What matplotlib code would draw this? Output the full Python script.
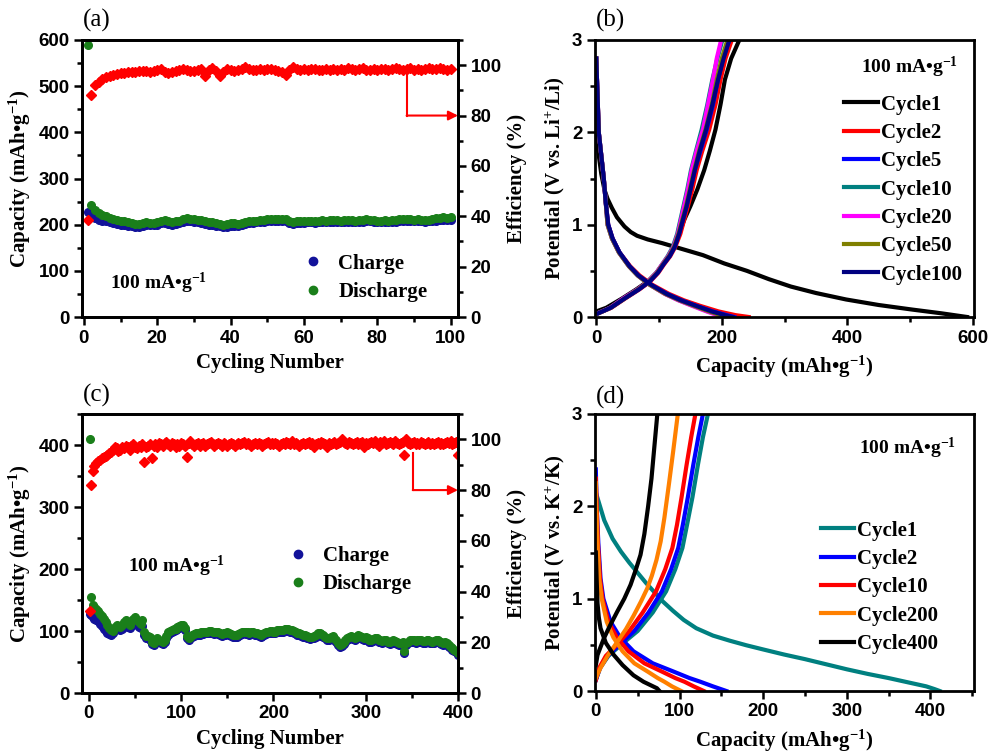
import numpy as np
import matplotlib
matplotlib.use("Agg")
import matplotlib.pyplot as plt
from matplotlib.lines import Line2D
from matplotlib.ticker import MultipleLocator

plt.rcParams['mathtext.fontset'] = 'custom'
plt.rcParams['mathtext.rm'] = 'Liberation Serif:bold'
plt.rcParams['mathtext.bf'] = 'Liberation Serif:bold'
plt.rcParams['mathtext.it'] = 'Liberation Serif:bold:italic'

# ---------------- Panel (a) data: Li, 100 cycles ----------------
cycles_a = np.arange(1, 101)
discharge_a = [590, 243, 232, 226, 222, 218, 215, 213, 211, 209,
               207, 205, 203, 201, 202, 204, 205, 204, 204, 205,
               208, 210, 207, 205, 207, 209, 212, 214, 213, 212,
               211, 210, 208, 206, 205, 204, 202, 199, 201, 203,
               203, 202, 204, 206, 208, 209, 209, 210, 211, 212,
               213, 213, 213, 212, 213, 209, 206, 207, 208, 208,
               209, 209, 208, 209, 210, 209, 210, 211, 210, 209,
               210, 211, 210, 209, 210, 211, 212, 211, 210, 209,
               209, 210, 209, 210, 211, 212, 212, 213, 212, 211,
               212, 211, 210, 211, 213, 214, 215, 216, 215, 216]
charge_a = [228, 218, 214, 211, 209, 207, 205, 203, 202, 200,
            199, 198, 197, 195, 196, 198, 199, 199, 199, 200,
            203, 204, 201, 200, 202, 204, 206, 208, 207, 206,
            205, 204, 202, 200, 199, 198, 197, 195, 196, 198,
            198, 197, 199, 201, 203, 204, 205, 205, 206, 207,
            208, 208, 208, 207, 207, 204, 202, 203, 204, 204,
            205, 205, 204, 205, 205, 205, 206, 206, 206, 205,
            206, 206, 206, 205, 205, 206, 207, 207, 206, 205,
            205, 206, 205, 206, 206, 207, 208, 208, 208, 207,
            207, 207, 206, 207, 208, 209, 210, 210, 210, 211]
eff_a = [38.5, 88.0, 92.0, 93.5, 94.5, 95.2, 95.8, 96.2, 96.5, 96.8,
         97.0, 97.2, 97.4, 97.3, 97.6, 97.8, 97.5, 97.2, 97.6, 97.9,
         98.3, 97.2, 96.8, 97.4, 97.8, 98.2, 98.6, 98.0, 97.6, 97.8,
         98.2, 98.6, 95.8, 98.0, 98.7, 97.5, 95.9, 97.2, 98.3, 98.0,
         97.8, 98.2, 98.6, 99.4, 98.4, 97.9, 98.2, 98.5, 98.0, 98.3,
         98.6, 98.1, 97.7, 97.3, 96.0, 98.0, 99.2, 98.5, 98.1, 98.4,
         98.0, 98.3, 98.6, 98.1, 97.9, 98.4, 98.2, 98.6, 98.0, 98.5,
         98.2, 98.7, 98.3, 98.0, 98.5, 98.8, 98.2, 98.1, 98.4, 98.0,
         98.3, 98.6, 98.2, 98.5, 98.9, 98.3, 98.0, 98.4, 98.7, 98.2,
         98.5, 98.1, 98.4, 98.8, 98.3, 98.6, 99.0, 98.4, 98.2, 98.5]

# ---------------- Panel (c) data: K, 400 cycles ----------------
cycles_c = np.array([1, 2] + list(range(4, 401, 2)))
discharge_c = [410, 155,
               142, 138, 135, 132, 128, 124, 120, 115, 110,
               105, 102, 100, 106, 110, 108, 106, 110, 114, 117,
               113, 110, 115, 120, 122, 118, 114, 112, 118, 98,
               92, 92, 90, 82, 80, 84, 88, 86, 84, 82,
               86, 92, 98, 100, 101, 103, 104, 106, 108, 110,
               109, 105, 92, 88, 90, 93, 95, 96, 97, 97,
               98, 98, 99, 99, 100, 100, 99, 98, 99, 98,
               96, 95, 96, 97, 98, 96, 95, 94, 93, 94,
               95, 96, 98, 99, 98, 98, 97, 98, 98, 97,
               96, 95, 94, 95, 97, 98, 99, 100, 100, 99,
               99, 101, 102, 101, 102, 103, 104, 103, 102, 101,
               100, 99, 97, 96, 95, 94, 93, 92, 91, 90,
               91, 92, 94, 96, 97, 95, 93, 91, 89, 88,
               90, 92, 89, 85, 81, 78, 79, 82, 85, 88,
               90, 92, 90, 88, 91, 93, 92, 90, 88, 90,
               88, 86, 85, 87, 89, 88, 86, 85, 84, 86,
               85, 83, 82, 84, 86, 84, 82, 80, 81, 82,
               68, 80, 83, 85, 86, 85, 84, 85, 86, 85,
               84, 84, 85, 85, 84, 83, 84, 86, 85, 83,
               82, 81, 82, 80, 78, 75, 73, 70, 68, 64]
charge_c = [128, 126,
            122, 120, 118, 116, 112, 108, 104, 100, 97,
            95, 93, 96, 102, 104, 103, 102, 104, 107, 109,
            107, 105, 108, 111, 113, 110, 107, 105, 108, 93,
            89, 88, 86, 79, 77, 80, 84, 82, 80, 79,
            82, 88, 93, 96, 98, 100, 101, 103, 105, 107,
            106, 101, 89, 86, 88, 90, 92, 93, 94, 94,
            95, 95, 96, 96, 97, 97, 96, 95, 96, 95,
            93, 92, 93, 94, 95, 93, 92, 91, 90, 91,
            92, 93, 95, 96, 95, 95, 94, 95, 95, 94,
            93, 92, 91, 92, 94, 95, 96, 97, 97, 96,
            96, 98, 99, 98, 99, 100, 101, 100, 99, 98,
            97, 96, 94, 93, 92, 91, 90, 89, 88, 87,
            88, 89, 91, 93, 94, 92, 90, 88, 86, 85,
            87, 89, 86, 82, 78, 75, 76, 79, 82, 85,
            87, 89, 87, 85, 88, 90, 89, 87, 85, 87,
            85, 83, 82, 84, 86, 85, 83, 82, 81, 83,
            82, 80, 79, 81, 83, 81, 79, 77, 78, 79,
            65, 77, 80, 82, 83, 82, 81, 82, 83, 82,
            81, 81, 82, 82, 81, 80, 81, 83, 82, 80,
            79, 78, 79, 77, 75, 72, 70, 68, 66, 62]
eff_c = [32.5, 82.0,
         87.5, 89.5, 90.5, 91.5, 92.0, 92.5, 93.0, 93.5, 94.0,
         94.5, 95.0, 96.0, 97.0, 96.5, 95.5, 96.0, 97.0, 96.5, 97.5,
         97.0, 96.0, 97.5, 98.0, 97.0, 96.5, 97.5, 97.0, 98.0, 91.0,
         97.0, 97.5, 98.0, 92.5, 97.5, 98.0, 97.0, 98.5, 98.0, 97.5,
         98.5, 99.0, 98.0, 97.5, 98.5, 98.0, 97.0, 98.0, 97.5, 98.5,
         98.0, 97.5, 93.0, 98.5, 99.5, 98.0, 97.5, 98.0, 98.5, 97.5,
         98.0, 98.5, 97.5, 98.0, 98.5, 99.0, 98.0, 97.5, 98.0, 98.5,
         98.0, 97.5, 98.5, 98.0, 97.5, 98.0, 98.5, 98.0, 97.5, 98.0,
         98.5, 98.0, 98.5, 99.0, 98.0, 98.5, 98.0, 97.5, 98.0, 98.5,
         98.0, 98.5, 98.0, 97.5, 98.0, 98.5, 99.0, 98.0, 98.5, 98.0,
         98.5, 98.0, 97.5, 98.0, 98.5, 98.0, 99.0, 98.5, 98.0, 99.5,
         98.0, 98.5, 98.0, 97.5, 98.0, 98.5, 98.0, 98.5, 99.0, 98.0,
         98.5, 97.0, 98.0, 98.5, 98.0, 99.0, 98.5, 98.0, 97.0, 98.5,
         98.0, 98.5, 99.0, 98.0, 98.5, 99.0, 100.0, 99.0, 98.5, 98.0,
         99.0, 98.5, 98.0, 98.5, 99.0, 98.0, 98.5, 99.0, 97.0, 98.5,
         98.0, 98.5, 99.0, 98.5, 99.5, 98.0, 97.5, 99.0, 98.5, 99.5,
         98.0, 98.5, 99.0, 98.5, 98.0, 99.5, 98.5, 98.0, 98.5, 99.0,
         94.0, 100.0, 98.5, 98.0, 98.5, 99.0, 98.0, 98.5, 98.0, 99.0,
         98.5, 98.0, 98.5, 99.0, 98.0, 98.5, 98.0, 98.5, 99.0, 98.0,
         98.5, 98.0, 98.5, 99.0, 98.5, 99.5, 98.0, 98.5, 99.0, 94.0]

# ---------------- Panel (b) data: Li voltage profiles ----------------
labels_b = ['Cycle1', 'Cycle2', 'Cycle5', 'Cycle10', 'Cycle20', 'Cycle50', 'Cycle100']
colors_b = ['#000000', '#ff0000', '#0000ff', '#008080', '#ff00ff', '#808000', '#000080']
# cycle 1
b1_dis_V = [2.05, 1.80, 1.55, 1.38, 1.28, 1.18, 1.08, 0.98, 0.92, 0.88, 0.84, 0.80, 0.75, 0.67,
            0.58, 0.50, 0.41, 0.33, 0.26, 0.19, 0.13, 0.08, 0.04, 0.00]
b1_dis_C = [0, 3, 8, 13, 18, 25, 33, 45, 55, 65, 82, 105, 130, 170,
            204, 240, 275, 310, 350, 398, 450, 504, 550, 591]
b1_chg_V = [0.06, 0.10, 0.20, 0.30, 0.385, 0.48, 0.57, 0.66, 0.76, 0.90,
            1.05, 1.20, 1.38, 1.59, 1.80, 2.03, 2.30, 2.57, 2.80, 3.00]
b1_chg_C = [0, 16, 41, 64, 82, 96, 106, 116, 124, 132,
            140, 150, 161, 172, 181, 190, 198, 205, 215, 228]
# cycles 2..100
b_dis_V = [2.80, 2.40, 2.00, 1.75, 1.50, 1.25, 1.00, 0.85, 0.70, 0.55,
           0.45, 0.35, 0.25, 0.18, 0.12, 0.06, 0.02, 0.00]
b_dis_C = {
    'Cycle2':   [0, 2, 4, 8, 12, 15, 19, 26, 37, 54, 69, 89, 116, 140, 166, 195, 222, 243],
    'Cycle5':   [0, 2, 4, 8, 12, 15, 19, 26, 37, 53, 67, 87, 113, 136, 160, 186, 208, 220],
    'Cycle10':  [0, 2, 4, 8, 12, 15, 18, 25, 36, 52, 66, 85, 110, 132, 155, 178, 196, 204],
    'Cycle20':  [0, 2, 4, 8, 12, 15, 18, 25, 36, 52, 66, 85, 109, 131, 153, 176, 193, 200],
    'Cycle50':  [0, 2, 4, 8, 12, 15, 18, 25, 36, 52, 66, 85, 110, 133, 156, 180, 198, 206],
    'Cycle100': [0, 2, 4, 8, 12, 15, 19, 26, 37, 53, 67, 87, 112, 135, 159, 184, 205, 217],
}
b_chg_V = [0.04, 0.10, 0.20, 0.30, 0.385, 0.48, 0.57, 0.66, 0.76, 0.90,
           1.05, 1.20, 1.38, 1.59, 1.80, 2.03, 2.30, 2.57, 2.80, 3.00]
b_chg_C = {
    'Cycle2':   [3, 24, 46, 69, 86, 99, 108, 118, 126, 134, 140, 146, 153, 160, 169, 180, 190, 198, 206, 216],
    'Cycle5':   [3, 23, 45, 68, 85, 98, 107, 117, 125, 132, 138, 144, 150, 157, 166, 176, 186, 194, 202, 212],
    'Cycle10':  [2, 22, 43, 66, 83, 96, 105, 114, 122, 129, 134, 139, 145, 151, 159, 168, 177, 185, 193, 201],
    'Cycle20':  [2, 22, 43, 66, 83, 96, 105, 115, 123, 130, 135, 140, 146, 152, 160, 170, 178, 186, 192, 199],
    'Cycle50':  [3, 23, 45, 67, 84, 97, 106, 116, 124, 131, 137, 143, 149, 156, 164, 174, 184, 192, 200, 209],
    'Cycle100': [3, 23, 45, 68, 85, 98, 107, 117, 125, 132, 138, 144, 150, 157, 165, 175, 185, 194, 203, 212],
}

# ---------------- Panel (d) data: K voltage profiles ----------------
labels_d = ['Cycle1', 'Cycle2', 'Cycle10', 'Cycle200', 'Cycle400']
colors_d = ['#008080', '#0000ff', '#ff0000', '#ff8000', '#000000']
d_dis = {
    'Cycle1':   ([2.15, 1.85, 1.65, 1.51, 1.39, 1.28, 1.17, 1.07, 0.97, 0.87, 0.77, 0.68, 0.60,
                  0.545, 0.495, 0.45, 0.395, 0.345, 0.29, 0.235, 0.185, 0.14, 0.09, 0.05, 0.02, 0.00],
                 [0, 10, 20, 30, 40, 50, 60, 70, 80, 92, 105, 120, 140,
                  160, 180, 200, 225, 250, 275, 300, 325, 350, 375, 395, 405, 411]),
    'Cycle2':   ([2.40, 2.00, 1.60, 1.22, 1.00, 0.75, 0.58, 0.43, 0.30, 0.21, 0.14, 0.10, 0.05, 0.00],
                 [0, 1, 3, 5.6, 9, 17.6, 29, 45, 68, 93, 112, 125, 140, 156]),
    'Cycle10':  ([2.30, 2.00, 1.60, 1.22, 1.00, 0.75, 0.58, 0.43, 0.30, 0.21, 0.14, 0.10, 0.05, 0.00],
                 [0, 1, 2.5, 5, 8, 15, 25, 39, 58, 79, 95, 106, 117, 129]),
    'Cycle200': ([2.25, 2.00, 1.60, 1.22, 1.00, 0.75, 0.58, 0.43, 0.30, 0.21, 0.14, 0.10, 0.05, 0.00],
                 [0, 0.5, 2, 4, 7, 13, 21, 32, 46, 62, 74, 82, 91, 102]),
    'Cycle400': ([1.50, 1.20, 0.95, 0.80, 0.68, 0.52, 0.39, 0.28, 0.17, 0.10, 0.03, 0.00],
                 [0, 1, 2, 3.5, 5.6, 12, 21.5, 32, 45, 57, 73, 76]),
}
d_chg = {
    'Cycle1':   ([0.12, 0.25, 0.38, 0.50, 0.65, 0.85, 1.08, 1.32, 1.55, 1.80, 2.10, 2.45, 2.75, 3.00],
                 [0, 5, 15, 30, 50, 68, 84, 95, 103.5, 109, 115.5, 122, 128, 134]),
    'Cycle2':   ([0.12, 0.25, 0.38, 0.50, 0.65, 0.85, 1.08, 1.32, 1.55, 1.80, 2.10, 2.45, 2.75, 3.00],
                 [0, 5, 14, 28, 46, 63, 79, 90, 98.5, 104, 110, 116.5, 122.5, 128]),
    'Cycle10':  ([0.12, 0.25, 0.38, 0.50, 0.65, 0.85, 1.08, 1.32, 1.55, 1.80, 2.10, 2.45, 2.75, 3.00],
                 [0, 4, 12, 25, 40, 56, 72, 83, 91.5, 97, 102.5, 108.5, 114, 119]),
    'Cycle200': ([0.14, 0.25, 0.38, 0.53, 0.67, 0.82, 0.97, 1.11, 1.25, 1.42, 1.62, 1.88, 2.25, 2.60, 3.00],
                 [0, 5.6, 14, 25.5, 36, 45.4, 54, 61.4, 67, 72.5, 77.5, 82, 87.5, 92.5, 98]),
    'Cycle400': ([0.28, 0.39, 0.57, 0.71, 0.86, 1.00, 1.15, 1.32, 1.475, 1.70, 2.00, 2.30, 2.65, 3.00],
                 [0, 2, 9.6, 17, 25.6, 34, 41.5, 48, 53.4, 58, 62.5, 66.5, 70, 73.5]),
}

# ---------------- styling ----------------
SERIF = 'Liberation Serif'
SANS = 'Liberation Sans'
C_BLUE = '#12129a'
C_GREEN = '#1a7f1a'
C_RED = '#ff0000'
LBL = dict(family=SERIF, weight='bold', size=15)
RATE = '100 mA\u2022g$^{-1}$'

fig = plt.figure(figsize=(9.92, 7.53), dpi=100)
W, H = 992, 753

def add_ax(l, t, r, b):
    return fig.add_axes([l / W, 1 - b / H, (r - l) / W, (b - t) / H])

def style(ax):
    for s in ax.spines.values():
        s.set_linewidth(2.0)
    ax.tick_params(which='both', direction='out', width=1.8, colors='black', pad=3)
    ax.tick_params(which='major', length=6)
    ax.tick_params(which='minor', length=3.5)
    for lab in ax.get_xticklabels() + ax.get_yticklabels():
        lab.set_fontfamily(SANS)
        lab.set_fontweight('bold')
        lab.set_fontsize(13.5)

ax_a = add_ax(82, 40, 458, 317)
ax_b = add_ax(595, 40, 974, 317)
ax_c = add_ax(82, 414, 458, 693)
ax_d = add_ax(595, 414, 974, 691)

def cycling_panel(ax, cyc, chg, dis, eff, xlim, xmaj, ylim, ymaj, arrow_x, arrow_top, arrow_end):
    ax.plot(cyc, chg, 'o', color=C_BLUE, ms=5.5, mec=C_BLUE, label='Charge')
    ax.plot(cyc, dis, 'o', color=C_GREEN, ms=5.5, mec=C_GREEN, label='Discharge')
    ax.set_xlim(*xlim)
    ax.set_ylim(*ylim)
    ax.xaxis.set_major_locator(MultipleLocator(xmaj))
    ax.xaxis.set_minor_locator(MultipleLocator(xmaj / 2))
    ax.yaxis.set_major_locator(MultipleLocator(ymaj))
    ax.yaxis.set_minor_locator(MultipleLocator(ymaj / 2))
    ax.set_xlabel('Cycling Number', fontdict=LBL, labelpad=5)
    ax.set_ylabel('Capacity (mAh\u2022g$^{-1}$)', fontdict=LBL, labelpad=4)
    style(ax)
    ax2 = ax.twinx()
    ax2.plot(cyc, eff, 'D', color=C_RED, ms=5.5, mec=C_RED)
    ax2.set_ylim(0, 110)
    ax2.yaxis.set_major_locator(MultipleLocator(20))
    ax2.yaxis.set_minor_locator(MultipleLocator(10))
    ax2.set_ylabel('Efficiency (%)', fontdict=LBL, labelpad=4)
    style(ax2)
    ax2.plot([arrow_x, arrow_x], [arrow_top, 80], color=C_RED, lw=1.5)
    ax2.annotate('', xy=(arrow_end, 80), xytext=(arrow_x, 80),
                 arrowprops=dict(arrowstyle='-|>', color=C_RED, lw=1.5,
                                 mutation_scale=14, shrinkA=0, shrinkB=0),
                 annotation_clip=False)
    return ax2

cycling_panel(ax_a, cycles_a, charge_a, discharge_a, eff_a, (-0.5, 102), 20,
              (0, 600), 100, 88, 98.5, 102)
cycling_panel(ax_c, cycles_c, charge_c, discharge_c, eff_c, (-7.5, 400), 100,
              (0, 450), 100, 351, 94.5, 400)

leg_kw = dict(frameon=False, prop=dict(family=SERIF, weight='bold', size=15),
              borderpad=0, borderaxespad=0)
for ax, (lx, ly) in ((ax_a, (0.587, 0.141)), (ax_c, (0.547, 0.441))):
    h = [Line2D([], [], marker='o', ls='none', color=C_BLUE, ms=6),
         Line2D([], [], marker='o', ls='none', color=C_GREEN, ms=6)]
    ax.legend(h, ['Charge', 'Discharge'], loc='center left', bbox_to_anchor=(lx, ly),
              handlelength=1.0, handletextpad=0.7, labelspacing=0.4, **leg_kw)

ax_a.text(0.074, 0.123, RATE, transform=ax_a.transAxes, ha='left', va='center',
          family=SERIF, weight='bold', size=14)
ax_c.text(0.122, 0.455, RATE, transform=ax_c.transAxes, ha='left', va='center',
          family=SERIF, weight='bold', size=14)

# panel (b)
ax_b.plot(b1_dis_C, b1_dis_V, color=colors_b[0], lw=3, label=labels_b[0])
ax_b.plot(b1_chg_C, b1_chg_V, color=colors_b[0], lw=3)
for lab, col in zip(labels_b[1:], colors_b[1:]):
    ax_b.plot(b_dis_C[lab], b_dis_V, color=col, lw=3, label=lab)
    ax_b.plot(b_chg_C[lab], b_chg_V, color=col, lw=3)
ax_b.set_xlim(-2, 602)
ax_b.set_ylim(0, 3)
ax_b.xaxis.set_major_locator(MultipleLocator(200))
ax_b.xaxis.set_minor_locator(MultipleLocator(100))
ax_b.yaxis.set_major_locator(MultipleLocator(1))
ax_b.yaxis.set_minor_locator(MultipleLocator(0.5))
ax_b.set_xlabel('Capacity (mAh\u2022g$^{-1}$)', fontdict=LBL, labelpad=5)
ax_b.set_ylabel('Potential (V vs. Li$^{+}$/Li)', fontdict=LBL, labelpad=4)
style(ax_b)
ax_b.legend(loc='center left', bbox_to_anchor=(0.657, 0.46), handlelength=1.63,
            handletextpad=0.15, labelspacing=0.4, **leg_kw)
ax_b.text(0.702, 0.9, RATE, transform=ax_b.transAxes, ha='left', va='center',
          family=SERIF, weight='bold', size=14)

# panel (d)
for lab, col in zip(labels_d, colors_d):
    ax_d.plot(d_dis[lab][1], d_dis[lab][0], color=col, lw=3, label=lab)
    ax_d.plot(d_chg[lab][1], d_chg[lab][0], color=col, lw=3)
ax_d.set_xlim(-1, 452)
ax_d.set_ylim(0, 3)
ax_d.xaxis.set_major_locator(MultipleLocator(100))
ax_d.xaxis.set_minor_locator(MultipleLocator(50))
ax_d.yaxis.set_major_locator(MultipleLocator(1))
ax_d.yaxis.set_minor_locator(MultipleLocator(0.5))
ax_d.set_xlabel('Capacity (mAh\u2022g$^{-1}$)', fontdict=LBL, labelpad=5)
ax_d.set_ylabel('Potential (V vs. K$^{+}$/K)', fontdict=LBL, labelpad=4)
style(ax_d)
ax_d.legend(loc='center left', bbox_to_anchor=(0.596, 0.374), handlelength=1.6,
            handletextpad=0.15, labelspacing=0.4, **leg_kw)
ax_d.text(0.697, 0.877, RATE, transform=ax_d.transAxes, ha='left', va='center',
          family=SERIF, weight='bold', size=14)

# panel labels
for ax, lab, yy in ((ax_a, '(a)', 1.072), (ax_b, '(b)', 1.072),
                    (ax_c, '(c)', 1.065), (ax_d, '(d)', 1.06)):
    ax.text(0.003, yy, lab, transform=ax.transAxes, ha='left', va='center',
            family=SERIF, size=18)

fig.savefig('out.png', dpi=100)
